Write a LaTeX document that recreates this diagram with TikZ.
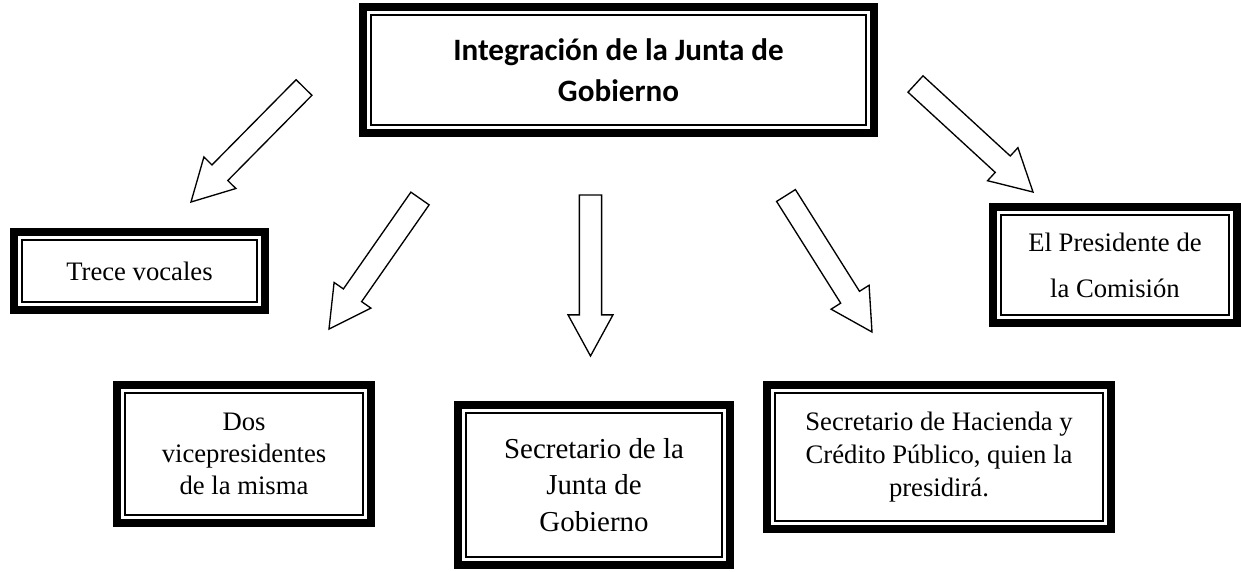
\documentclass[tikz,border=0pt]{standalone}
\usepackage{fontspec}
\setmainfont{Liberation Serif}
\newfontfamily\titlefont{Carlito}
\usepackage{tikz}
\usetikzlibrary{calc}
\tikzset{
    box/.style = {
        draw,
        shape=rectangle,
        line width=0.7pt,
        inner sep=0pt,
        align=center
    },
    boxsize/.style 2 args = {
        minimum width=#1*0.45pt,
        minimum height=#2*0.45pt
    },
    frame/.style = {
        draw,
        line width=3.4pt
    },
    hollow/.style = {
        draw,
        line width=0.6pt,
        line join=miter,
        fill=white
    },
}
% hollow block arrow from #1 (tail) to #2 (tip)
\newcommand{\hollowarrow}[2]{%
    \path ($(#2)!18.5pt!(#1)$) coordinate (headbase);
    \draw[hollow] ($(#1)!5pt!90:(#2)$) -- ($(headbase)!5pt!90:(#2)$)
        -- ($(headbase)!10.1pt!90:(#2)$) -- (#2)
        -- ($(headbase)!10.1pt!-90:(#2)$) -- ($(headbase)!5pt!-90:(#2)$)
        -- ($(#1)!5pt!-90:(#2)$) -- cycle;
}

\begin{document}
\begin{tikzpicture}[x=0.45pt,y=-0.45pt]
    \useasboundingbox (0,0) rectangle (1241,571);

    \node[box, boxsize={495}{110}, font=\titlefont\fontsize{14}{18.5}\selectfont\bfseries] (title) at (618.5,70) {Integración de la Junta de\\Gobierno};
    \node[box, boxsize={235}{62}, font=\fontsize{12}{14.4}\selectfont] (vocales) at (139.5,271) {Trece vocales};
    \node[box, boxsize={238}{122}, font=\fontsize{12}{14.4}\selectfont] (vice) at (244,454) {Dos\\vicepresidentes\\de la misma};
    \node[box, boxsize={256}{144}, font=\fontsize{13}{16.4}\selectfont] (secjunta) at (594,485) {Secretario de la\\Junta de\\Gobierno};
    \node[box, boxsize={328}{128}, font=\fontsize{12}{14.9}\selectfont] (hacienda) at (939,457) {Secretario de Hacienda y\\Crédito Público, quien la\\presidirá.};
    \node[box, boxsize={228}{100}, font=\fontsize{12}{20.7}\selectfont] (presidente) at (1115,265) {El Presidente de\\la Comisión};

    \foreach \n in {title,vocales,vice,secjunta,hacienda,presidente}
        \draw[frame] ($(\n.south west)+(-3.15pt,-3.15pt)$) rectangle ($(\n.north east)+(3.15pt,3.15pt)$);

    \coordinate (vocalestail) at (304,87.5);
    \coordinate (vocalestip) at (191,202);
    \coordinate (vicetail) at (420,198.5);
    \coordinate (vicetip) at (329,329);
    \coordinate (secjuntatail) at (590.5,195);
    \coordinate (secjuntatip) at (590.5,356);
    \coordinate (haciendatail) at (786,195.5);
    \coordinate (haciendatip) at (872,332);
    \coordinate (presidentetail) at (915.5,84);
    \coordinate (presidentetip) at (1033,192);

    \hollowarrow{vocalestail}{vocalestip}
    \hollowarrow{vicetail}{vicetip}
    \hollowarrow{secjuntatail}{secjuntatip}
    \hollowarrow{haciendatail}{haciendatip}
    \hollowarrow{presidentetail}{presidentetip}
\end{tikzpicture}
\end{document}
